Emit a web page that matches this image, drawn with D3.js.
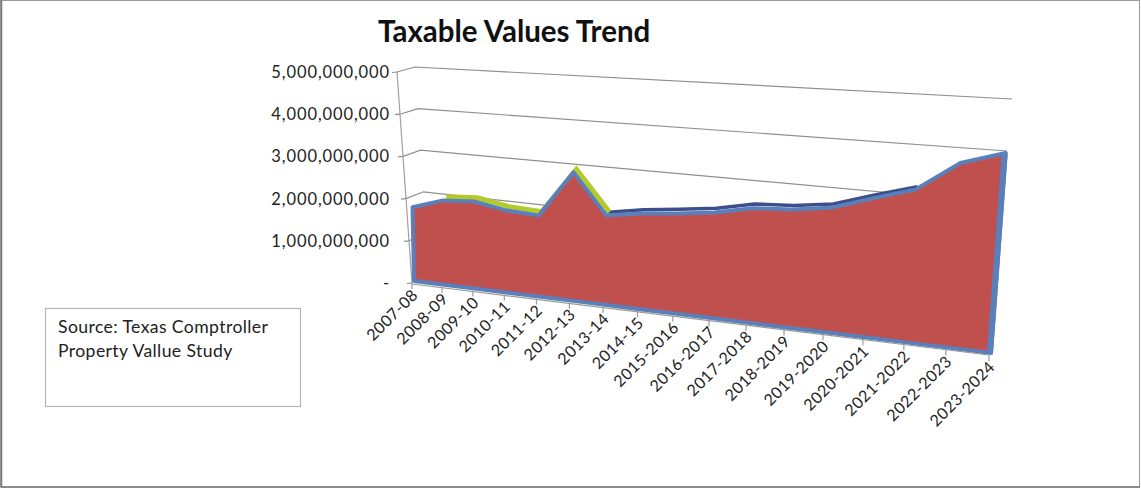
<!DOCTYPE html>
<html><head><meta charset="utf-8">
<script src="https://cdnjs.cloudflare.com/ajax/libs/d3/7.8.5/d3.min.js"></script>
<style>html,body{margin:0;padding:0;background:#fff}svg{display:block}text{font-family:Lato,"Open Sans",sans-serif;fill:#222}</style>
</head><body><svg id="c" width="1141" height="489"></svg>
<script>
const categories=["2007-08","2008-09","2009-10","2010-11","2011-12","2012-13","2013-14","2014-15","2015-2016","2016-2017","2017-2018","2018-2019","2019-2020","2020-2021","2021-2022","2022-2023","2023-2024"];
const frontValues=[1.85e9,2.08e9,2.12e9,1.98e9,1.93e9,2.98e9,2.07e9,2.18e9,2.25e9,2.34e9,2.50e9,2.54e9,2.64e9,2.90e9,3.14e9,3.73e9,3.98e9];
const greenValues=[null,2.12e9,2.16e9,2.02e9,1.97e9,3.0e9,2.1e9,null,null,null,null,null,null,null,null,null,null];
const darkValues=[null,null,null,null,null,null,2.12e9,2.24e9,2.32e9,2.41e9,2.57e9,2.6e9,2.7e9,2.95e9,3.18e9,null,null];
const yTicks=[0,1e9,2e9,3e9,4e9,5e9];
const yLabels=["-","1,000,000,000","2,000,000,000","3,000,000,000","4,000,000,000","5,000,000,000"];
const sourceLines=["Source: Texas Comptroller","Property Vallue Study"];

const svg=d3.select("#c");
svg.append("rect").attr("x",0.5).attr("y",0.5).attr("width",1139).attr("height",486.5).attr("fill","#fff").attr("stroke","#9a9a9a").attr("stroke-width",1);
svg.append("path").attr("d","M1.5,0V487H1140").attr("fill","none").attr("stroke","#777").attr("stroke-width",1.5);

const tScale=d3.scalePoint().domain(d3.range(categories.length)).range([0,1]);
const persp=i=>{const t=tScale(i);return t/(1+0.212*(1-t));};
const baseX=d3.scaleLinear().domain([0,1]).range([412,989]);
const baseY=d3.scaleLinear().domain([0,1]).range([283,355]);
const unit=d3.scaleLinear().domain([0,1]).range([41.5,51]);
const lean=d3.scaleLinear().domain([0,1]).range([0.3,4.2]);
const bn=v=>v/1e9;
const px=(i,v,d=0)=>baseX(persp(i))+lean(persp(i))*bn(v)+d;
const py=(i,v,d=0)=>baseY(persp(i))-unit(persp(i))*bn(v)+d;

const axisX=d3.scaleLinear().domain([0,5e9]).range([412,397]);
const axisY=d3.scaleLinear().domain([0,5e9]).range([283,72]);
const backLX=d3.scaleLinear().domain([0,5e9]).range([429,415]);
const backLY=d3.scaleLinear().domain([0,5e9]).range([275,67]);
const backRX=d3.scaleLinear().domain([0,5e9]).range([988,1012]);
const backRY=d3.scaleLinear().domain([0,5e9]).range([359,99]);

const wall=svg.append("g").attr("fill","none").attr("stroke","#8f8f8f").attr("stroke-width",1.2);
yTicks.slice(1).forEach(v=>{
  wall.append("path").attr("d",d3.line()([[axisX(v),axisY(v)],[backLX(v),backLY(v)],[backRX(v),backRY(v)]]));
});
wall.append("line").attr("x1",axisX(0)).attr("y1",axisY(0)).attr("x2",axisX(5e9)).attr("y2",axisY(5e9)).attr("stroke","#a0a0a0");
yTicks.forEach((v,k)=>{
  wall.append("line").attr("x1",axisX(v)-5).attr("y1",axisY(v)+0.5).attr("x2",axisX(v)).attr("y2",axisY(v));
  svg.append("text").attr("x",390).attr("y",axisY(v)+6).attr("text-anchor","end").attr("font-size",16.5).attr("letter-spacing",0.9).text(yLabels[k]);
});

const lineOf=(dx,dy)=>d3.line().defined(d=>d.v!=null).x(d=>px(d.i,d.v,dx)).y(d=>py(d.i,d.v,dy));
svg.append("path").datum(darkValues.map((v,i)=>({i,v}))).attr("fill","none").attr("stroke","#3c4f8c").attr("stroke-width",3.5).attr("d",lineOf(2,0));
svg.append("path").datum(greenValues.map((v,i)=>({i,v}))).attr("fill","none").attr("stroke","#b4ca2a").attr("stroke-width",5).attr("d",lineOf(3,-1));

const front=frontValues.map((v,i)=>({i,v}));
const area=d3.area()
  .x0(d=>px(d.i,0,2)).y0(d=>py(d.i,0,-2))
  .x1(d=>px(d.i,d.v)).y1(d=>py(d.i,d.v,1));
svg.append("path").datum(front).attr("fill","#c0504d").attr("stroke","#5a80bb").attr("stroke-width",4).attr("stroke-linejoin","round").attr("d",area);
const last=categories.length-1;
svg.append("line").attr("x1",px(last,frontValues[last],-1)).attr("y1",py(last,frontValues[last],1)).attr("x2",px(last,0,1)).attr("y2",py(last,0,-2)).attr("stroke","#5a80bb").attr("stroke-width",6);

svg.append("line").attr("x1",baseX(0)).attr("y1",baseY(0)+1).attr("x2",baseX(1)).attr("y2",baseY(1)).attr("stroke","#9a9a9a").attr("stroke-width",1.2);
categories.forEach((c,i)=>{
  const x=baseX(persp(i)),y=baseY(persp(i));
  svg.append("line").attr("x1",x).attr("y1",y).attr("x2",x).attr("y2",y+6).attr("stroke","#9a9a9a").attr("stroke-width",1.2);
  svg.append("text").attr("transform",`translate(${x+7},${y+13}) rotate(-45)`).attr("text-anchor","end").attr("font-size",16).attr("letter-spacing",0.45).text(c);
});

svg.append("text").attr("x",378).attr("y",42).attr("font-size",29.5).attr("font-weight",700).style("fill","#111").text("Taxable Values Trend");

svg.append("rect").attr("x",45.5).attr("y",308.5).attr("width",255).attr("height",98).attr("fill","#fff").attr("stroke","#b5b5b5").attr("stroke-width",1.2);
sourceLines.forEach((t,k)=>svg.append("text").attr("x",58).attr("y",333+k*24).attr("font-size",17.6).attr("letter-spacing",0.4).text(t));
</script></body></html>
